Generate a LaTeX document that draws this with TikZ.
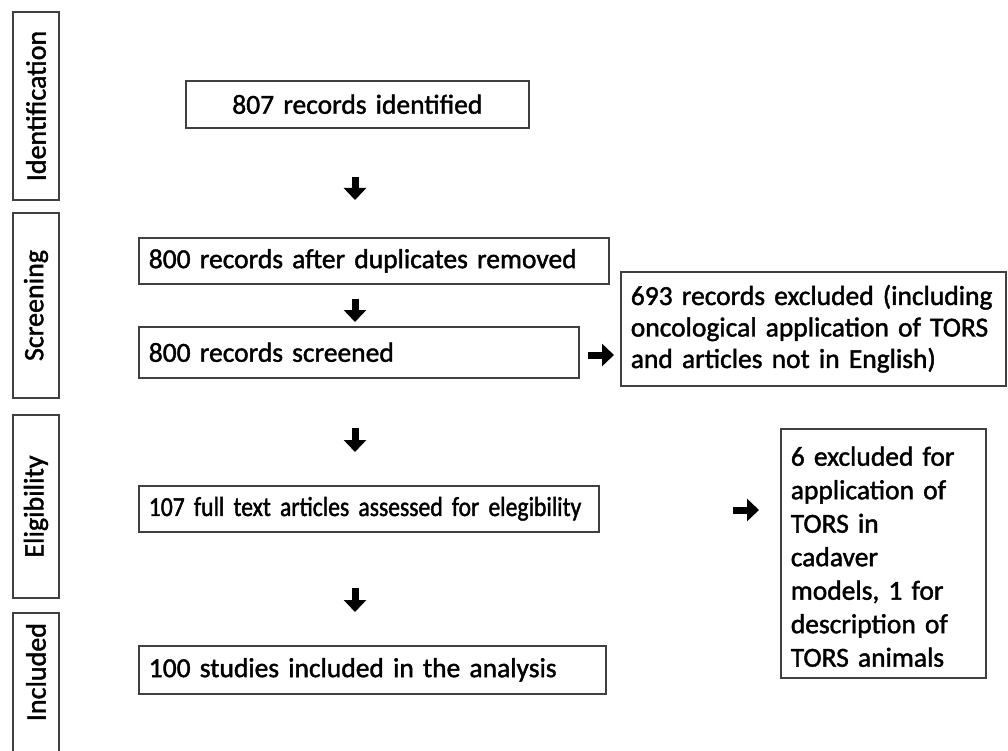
\documentclass[tikz,border=0pt]{standalone}
\usepackage{fontspec}
\setmainfont{Carlito}[RawFeature={embolden=1.5},WordSpace=0.9]
\newfontfamily\narrowfont{Carlito}[RawFeature={embolden=1.5},WordSpace=0.9,FakeStretch=0.86]
\usetikzlibrary{arrows.meta}
\begin{document}
\begin{tikzpicture}[x=1pt,y=-1pt,
  box/.style={draw=black!75, line width=1.6pt, inner ysep=0pt, inner xsep=10pt,
    anchor=north west, align=left, font=\fontsize{27.5}{32}\selectfont},
  sidebox/.style={draw=black!75, line width=1.6pt, rotate=90, minimum height=46pt,
    inner sep=0pt, font=\fontsize{28}{30}\selectfont},
  blk/.style={line width=7pt, -{Triangle[width=22pt,length=12pt]}, black}
]
\useasboundingbox (0,0) rectangle (1008,751);

% phase labels
\node[sidebox, minimum width=188pt] (id) at (36,106) {Identification};
\node[sidebox, minimum width=185pt] (sc) at (36,305.5) {Screening};
\node[sidebox, minimum width=183pt] (el) at (36,506.5) {Eligibility};
\node[sidebox, minimum width=150pt, text width=130pt, align=right, inner xsep=10pt] (in) at (36,688) {Included};

% main boxes
\node[box, minimum width=343pt, minimum height=47pt, align=center, text width=323pt] (a) at (185,80) {807 records identified};
\node[box, minimum width=470pt, minimum height=46pt, text width=450pt] (b) at (138,237) {\mbox{800 records after duplicates removed}};
\node[box, minimum width=440pt, minimum height=51pt, text width=420pt] (c) at (138,326) {\mbox{800 records screened}};
\node[box, minimum width=385pt, minimum height=114pt, text width=365pt,
      font=\fontsize{27.5}{31.5}\selectfont] (x1) at (620,271)
  {\mbox{693 records excluded (including}\\\mbox{oncological application of TORS}\\and articles not in English)};
\node[box, minimum width=460pt, minimum height=46pt, text width=440pt,
      font=\narrowfont\fontsize{27.5}{32}\selectfont] (d) at (138,485) {\mbox{107 full text articles assessed for elegibility}};
\node[box, minimum width=205pt, minimum height=249pt, text width=185pt,
      font=\fontsize{27.5}{33.5}\selectfont] (x2) at (780,428)
  {\rule{0pt}{26pt}6 excluded for\\application of\\TORS in\\cadaver\\models, 1 for\\description of\\TORS animals};
\node[box, minimum width=467pt, minimum height=48pt, text width=447pt] (e) at (138,645) {\mbox{100 studies included in the analysis}};

% arrows
\coordinate (a1s) at (355,177); \coordinate (a1e) at (355,200);
\coordinate (a2s) at (355,299); \coordinate (a2e) at (355,322);
\coordinate (a3s) at (355,428); \coordinate (a3e) at (355,452);
\coordinate (a4s) at (355,588); \coordinate (a4e) at (355,612);
\coordinate (r1s) at (588,355); \coordinate (r1e) at (614,355);
\coordinate (r2s) at (733,510); \coordinate (r2e) at (759,510);
\draw[blk] (a1s) -- (a1e);
\draw[blk] (a2s) -- (a2e);
\draw[blk] (a3s) -- (a3e);
\draw[blk] (a4s) -- (a4e);
\draw[blk] (r1s) -- (r1e);
\draw[blk] (r2s) -- (r2e);
\end{tikzpicture}
\end{document}
